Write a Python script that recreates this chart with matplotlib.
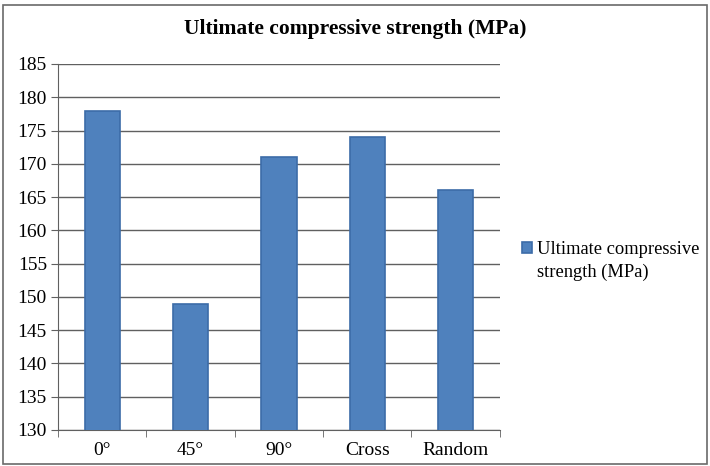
import matplotlib.pyplot as plt
import numpy as np
from matplotlib.patches import Rectangle

categories = ['0°', '45°', '90°', 'Cross', 'Random']
strength = [178, 149, 171, 174, 166]
yticks = list(range(130, 186, 5))
legend_lines = ['Ultimate compressive', 'strength (MPa)']

plt.rcParams['font.family'] = ['Liberation Serif', 'DejaVu Serif']

fig = plt.figure(figsize=(7.1, 4.66), dpi=100)
ax = fig.add_axes([0.0817, 0.0773, 0.6223, 0.7854])

x = np.arange(len(categories))
ax.bar(x, strength, width=0.4, color='#4F81BD', edgecolor='#3C6CA8',
       linewidth=1.2, zorder=3, label=legend_lines[0])

ax.set_xlim(-0.5, len(categories) - 0.5)
ax.set_ylim(130, 185)
ax.set_yticks(yticks)
ax.set_xticks(x)
ax.set_xticklabels(categories, fontsize=14)
ax.tick_params(axis='x', length=0, pad=9)
ax.set_xticks(np.arange(-0.5, len(categories)), minor=True)
ax.tick_params(axis='x', which='minor', length=5, color='#606060', direction='out')
ax.tick_params(axis='y', labelsize=14, length=5, color='#606060', pad=3)
ax.yaxis.grid(True, color='#606060', linewidth=1.0, zorder=0)
ax.set_axisbelow(True)
for s in ['top', 'right']:
    ax.spines[s].set_visible(False)
for s in ['left', 'bottom']:
    ax.spines[s].set_color('#606060')

fig.text(0.5, 0.937, 'Ultimate compressive strength (MPa)', ha='center',
         va='center', fontsize=15.5, fontweight='bold')

# legend: marker sits beside the first line, second line wraps underneath
leg = ax.legend(loc='center left', bbox_to_anchor=(1.012, 0.494), frameon=False,
                fontsize=13.3, handlelength=0.55, handleheight=0.55,
                handletextpad=0.3)
fig.canvas.draw()
bb = leg.get_texts()[0].get_window_extent().transformed(fig.transFigure.inverted())
fig.text(bb.x0, bb.y0 - 0.05, legend_lines[1], fontsize=13.3, ha='left', va='bottom')

fig.patches.append(Rectangle((0.004, 0.004), 0.992, 0.985, transform=fig.transFigure,
                             fill=False, edgecolor='#6a6a6a', linewidth=1.2))

plt.savefig('out.png')
